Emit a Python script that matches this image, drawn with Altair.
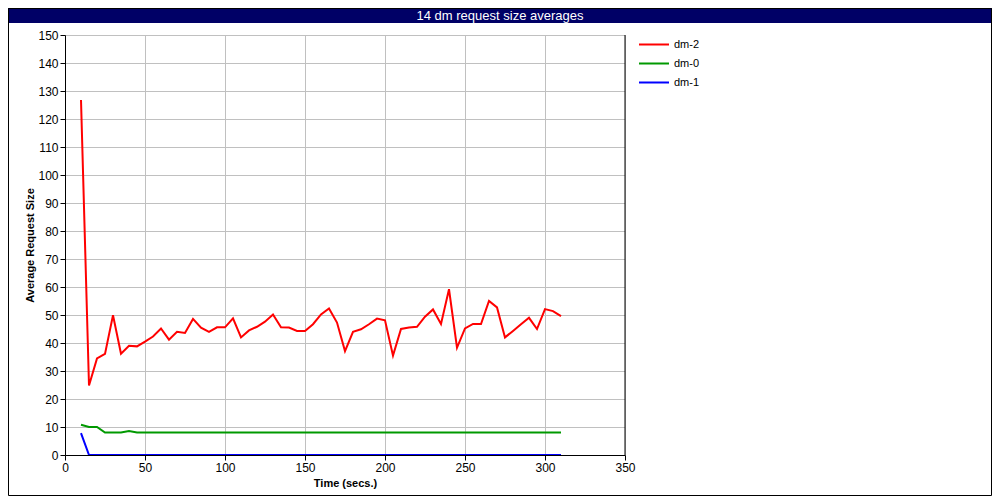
import altair as alt
import pandas as pd

times = [10, 15, 20, 25, 30, 35, 40, 45, 50, 55, 60, 65, 70, 75, 80, 85, 90, 95, 100,
         105, 110, 115, 120, 125, 130, 135, 140, 145, 150, 155, 160, 165, 170, 175, 180,
         185, 190, 195, 200, 205, 210, 215, 220, 225, 230, 235, 240, 245, 250, 255, 260,
         265, 270, 275, 280, 285, 290, 295, 300, 305, 310]

dm2 = [126.8, 24.8, 34.5, 36.1, 49.9, 36.2, 39.0, 38.8, 40.5, 42.3, 45.2, 41.2, 44.0, 43.6,
       48.6, 45.5, 44.0, 45.6, 45.6, 48.8, 42.0, 44.5, 45.8, 47.6, 50.2, 45.6, 45.5, 44.3,
       44.3, 46.7, 50.2, 52.3, 47.3, 37.1, 44.0, 44.9, 46.7, 48.7, 48.1, 35.5, 45.0, 45.5,
       45.8, 49.4, 52.0, 46.8, 59.2, 38.3, 45.2, 46.8, 46.8, 55.0, 52.7, 42.0, 44.3, 46.7,
       49.0, 45.0, 52.1, 51.4, 49.6]

dm0 = [10.8, 10.0, 10.0, 8.0, 8.0, 8.0, 8.6, 8.0, 8.0, 8.0, 8.0, 8.0, 8.0, 8.0, 8.0, 8.0,
       8.0, 8.0, 8.0, 8.0, 8.0, 8.0, 8.0, 8.0, 8.0, 8.0, 8.0, 8.0, 8.0, 8.0, 8.0, 8.0, 8.0,
       8.0, 8.0, 8.0, 8.0, 8.0, 8.0, 8.0, 8.0, 8.0, 8.0, 8.0, 8.0, 8.0, 8.0, 8.0, 8.0, 8.0,
       8.0, 8.0, 8.0, 8.0, 8.0, 8.0, 8.0, 8.0, 8.0, 8.0, 8.0]

dm1 = [7.8, 0.0, 0.0, 0.0, 0.0, 0.0, 0.0, 0.0, 0.0, 0.0, 0.0, 0.0, 0.0, 0.0, 0.0, 0.0,
       0.0, 0.0, 0.0, 0.0, 0.0, 0.0, 0.0, 0.0, 0.0, 0.0, 0.0, 0.0, 0.0, 0.0, 0.0, 0.0, 0.0,
       0.0, 0.0, 0.0, 0.0, 0.0, 0.0, 0.0, 0.0, 0.0, 0.0, 0.0, 0.0, 0.0, 0.0, 0.0, 0.0, 0.0,
       0.0, 0.0, 0.0, 0.0, 0.0, 0.0, 0.0, 0.0, 0.0, 0.0, 0.0]

series_names = ["dm-2", "dm-0", "dm-1"]
series_colors = ["#ff0000", "#009900", "#0000ff"]
x_ticks = [0, 50, 100, 150, 200, 250, 300, 350]
y_ticks = [0, 10, 20, 30, 40, 50, 60, 70, 80, 90, 100, 110, 120, 130, 140, 150]
title_text = "14 dm request size averages"

rows = []
for name, vals in zip(series_names, [dm2, dm0, dm1]):
    for t, v in zip(times, vals):
        rows.append({"time": t, "value": v, "series": name})
df = pd.DataFrame(rows)

W, H = 560, 420
PL, PT = 57, 27
TOTW, TOTH = 984, 488

tick_font = "Liberation Sans Narrow, Liberation Sans, sans-serif"
font = "Liberation Sans, Arial, sans-serif"

lines = alt.Chart(df).mark_line(strokeWidth=2, clip=True).encode(
    x=alt.X("time:Q", scale=alt.Scale(domain=[0, 350], nice=False),
            axis=alt.Axis(values=x_ticks, title="Time (secs.)", grid=True,
                          titlePadding=4, labelFlush=False)),
    y=alt.Y("value:Q", scale=alt.Scale(domain=[0, 150], nice=False),
            axis=alt.Axis(values=y_ticks, title="Average Request Size", grid=True,
                          titlePadding=2, labelFlush=False)),
    color=alt.Color("series:N",
                    scale=alt.Scale(domain=series_names, range=series_colors),
                    legend=alt.Legend(title=None, orient="none", legendX=573, legendY=0,
                                      symbolType="stroke", symbolSize=900,
                                      symbolStrokeWidth=2, clipHeight=19,
                                      labelFont=font, labelFontSize=11,
                                      labelColor="#000000", labelOffset=4,
                                      rowPadding=0, padding=0)),
    order=alt.Order("time:Q"),
)

one = alt.InlineData(values=[{"k": 1}])

right_rule = alt.Chart(one).mark_rule(color="#000000", strokeWidth=1).encode(
    x=alt.value(W), y=alt.value(0), y2=alt.value(H))

banner = alt.Chart(one).mark_rect(color="#000066").encode(
    x=alt.value(-PL), x2=alt.value(TOTW - PL), y=alt.value(-PT), y2=alt.value(-PT + 15))

banner_text = alt.Chart(one).mark_text(color="#ffffff", font=tick_font, fontSize=13,
                                       baseline="middle", align="center").encode(
    x=alt.value(500 - 65), y=alt.value(-PT + 7.5), text=alt.value(title_text))

frame = alt.Chart(one).mark_rect(fill="transparent", stroke="#000000", strokeWidth=1).encode(
    x=alt.value(-PL + 0.5), x2=alt.value(TOTW - PL - 0.5),
    y=alt.value(-PT + 0.5), y2=alt.value(TOTH - PT - 0.5))

chart = alt.layer(banner, frame, lines, right_rule, banner_text).properties(
    width=W, height=H,
    autosize=alt.AutoSizeParams(type="none"),
    padding={"left": PL, "top": PT, "right": TOTW - PL - W, "bottom": TOTH - PT - H},
    background="#ffffff",
).configure_view(stroke=None).configure_axis(
    domainColor="#000000", tickColor="#000000", tickSize=5, labelColor="#000000",
    labelFont=tick_font, labelFontSize=12, labelPadding=2,
    titleFont=font, titleFontSize=11, titleFontWeight="bold", titleColor="#000000",
    gridColor="#c0c0c0", gridWidth=1, domainWidth=1,
)

chart.save("out.html", embed_options={"renderer": "svg", "actions": False})
